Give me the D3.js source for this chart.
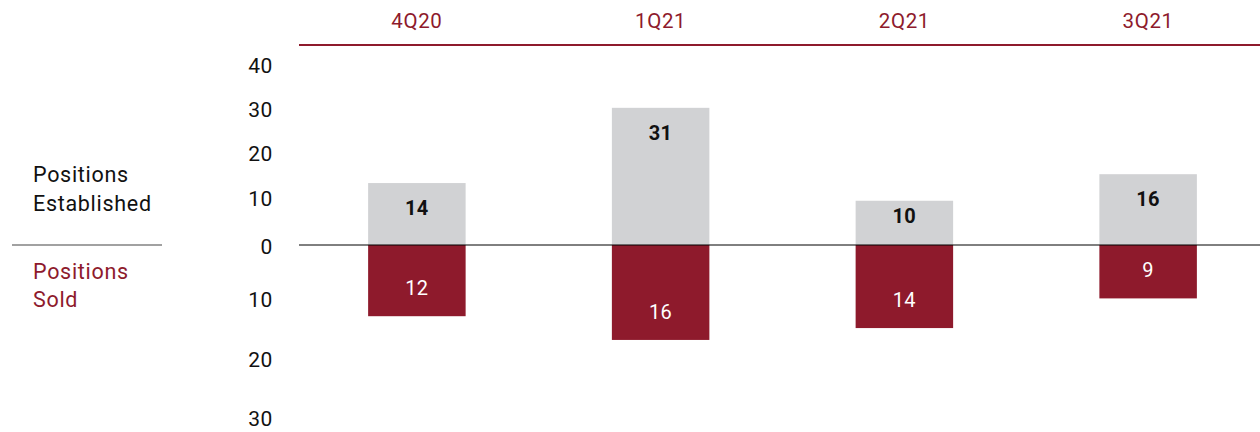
<!DOCTYPE html>
<html><head><meta charset="utf-8">
<script src="https://cdn.jsdelivr.net/npm/d3@7"></script>
<style>
body{margin:0;background:#fff;}
text{font-family:Roboto, "DejaVu Sans", sans-serif;}
</style></head>
<body>
<svg id="c" width="1260" height="432"></svg>
<script>
const categories = ["4Q20","1Q21","2Q21","3Q21"];
const established = [14,31,10,16];
const sold = [12,16,14,9];
const posTicks = [0,10,20,30,40];
const negTicks = [10,20,30];

const RED = "#8e1a2c", GREY = "#d1d2d4";
const svg = d3.select("#c");
const x = d3.scaleBand().domain(categories).range([295,1270]).paddingInner(0.6).paddingOuter(0.3);
const yPos = d3.scaleLinear().domain([0,40]).range([245,68]);
const yNeg = d3.scaleLinear().domain([0,30]).range([245,423]);

// header
svg.append("line").attr("x1",299).attr("x2",1260).attr("y1",45).attr("y2",45).attr("stroke",RED).attr("stroke-width",2.2);
svg.selectAll(".cat").data(categories).join("text")
  .attr("x",d=>x(d)+x.bandwidth()/2).attr("y",28).attr("text-anchor","middle")
  .attr("fill",RED).attr("font-size",20.5).attr("letter-spacing","0.6px").text(d=>d);

// bars
svg.selectAll(".pb").data(categories).join("rect")
  .attr("x",d=>x(d)).attr("width",x.bandwidth())
  .attr("y",(d,i)=>yPos(established[i])).attr("height",(d,i)=>yPos(0)-yPos(established[i]))
  .attr("fill",GREY);
svg.selectAll(".nb").data(categories).join("rect")
  .attr("x",d=>x(d)).attr("width",x.bandwidth())
  .attr("y",yNeg(0)).attr("height",(d,i)=>yNeg(sold[i])-yNeg(0))
  .attr("fill",RED);

// value labels
svg.selectAll(".pl").data(categories).join("text")
  .attr("x",d=>x(d)+x.bandwidth()/2)
  .attr("y",(d,i)=>Math.min(yPos(established[i])+32, yPos(0)-22))
  .attr("text-anchor","middle").attr("font-size",20).attr("font-weight","bold").attr("fill","#111")
  .attr("letter-spacing","0.4px")
  .text((d,i)=>established[i]);
svg.selectAll(".nl").data(categories).join("text")
  .attr("x",d=>x(d)+x.bandwidth()/2).attr("y",(d,i)=>yNeg(sold[i])-21)
  .attr("text-anchor","middle").attr("font-size",20).attr("fill","#fff")
  .attr("letter-spacing","0.4px")
  .text((d,i)=>sold[i]);

// zero line
svg.append("line").attr("x1",299).attr("x2",1260).attr("y1",yPos(0)).attr("y2",yPos(0)).attr("stroke","#000").attr("stroke-width",1);

// axes
const axP = d3.axisLeft(yPos).tickValues(posTicks).tickSize(0).tickPadding(0).tickFormat(d3.format("d"));
const gP = svg.append("g").attr("transform","translate(273,0)").call(axP);
const axN = d3.axisLeft(yNeg).tickValues(negTicks).tickSize(0).tickPadding(0).tickFormat(d3.format("d"));
const gN = svg.append("g").attr("transform","translate(273,0)").call(axN);
[gP,gN].forEach(g=>{
  g.select(".domain").remove();
  g.selectAll("text").attr("font-size",21).attr("fill","#111").attr("font-family","Roboto, sans-serif")
   .attr("letter-spacing","0.6px").attr("dy","0.35em");
});
gP.selectAll("text").filter(d=>d!==0).attr("transform","translate(0,-3)");
gP.selectAll("text").filter(d=>d===0).attr("transform","translate(0,1)");
gN.selectAll("text").attr("transform","translate(0,-5)");

// legend side labels
const lg = svg.append("g").attr("font-size",21.5).attr("letter-spacing","0.7px");
lg.append("text").attr("x",33).attr("y",182).attr("fill","#111").text("Positions");
lg.append("text").attr("x",33).attr("y",211).attr("fill","#111").text("Established");
lg.append("line").attr("x1",12).attr("x2",162).attr("y1",245).attr("y2",245).attr("stroke","#444").attr("stroke-width",1.2);
lg.append("text").attr("x",33).attr("y",279).attr("fill",RED).text("Positions");
lg.append("text").attr("x",33).attr("y",307).attr("fill",RED).text("Sold");
</script>
</body></html>
